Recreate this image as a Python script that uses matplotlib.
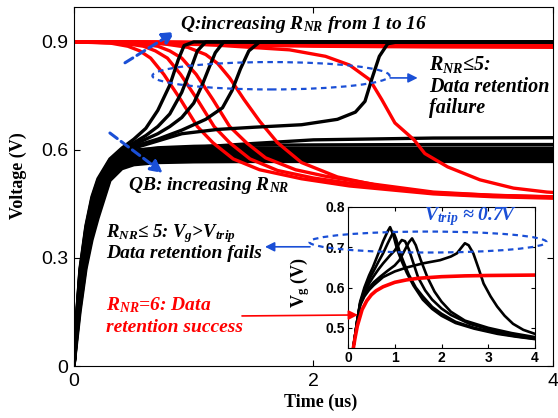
import matplotlib
matplotlib.use('Agg')
import matplotlib.pyplot as plt
from matplotlib.patches import Ellipse

plt.rcParams['mathtext.default'] = 'regular'
plt.rcParams['font.family'] = 'Liberation Sans'

BLUE = '#1a4fd6'
RED = '#ff0000'

# ---- main plot data (time in us, voltage in V) ----
# QB for R_NR = 6..16 (data retained)
t_hold = [0, 0.02, 0.05, 0.1, 0.15, 0.2, 0.3, 0.4, 0.5, 0.7, 1.0, 1.5, 2.0, 3.0, 4.0]
qb_hold = [
    [0, 0.11, 0.24, 0.36, 0.44, 0.50, 0.565, 0.593, 0.600, 0.603, 0.607, 0.618, 0.628, 0.633, 0.634],
    [0, 0.11, 0.24, 0.36, 0.44, 0.50, 0.560, 0.588, 0.598, 0.606, 0.610, 0.613, 0.614, 0.615, 0.615],
    [0, 0.10, 0.23, 0.35, 0.43, 0.49, 0.555, 0.582, 0.592, 0.600, 0.603, 0.604, 0.605, 0.605, 0.605],
    [0, 0.10, 0.22, 0.34, 0.42, 0.48, 0.550, 0.577, 0.587, 0.594, 0.597, 0.598, 0.598, 0.598, 0.598],
    [0, 0.09, 0.21, 0.33, 0.41, 0.47, 0.545, 0.572, 0.582, 0.588, 0.591, 0.592, 0.592, 0.592, 0.592],
    [0, 0.09, 0.20, 0.32, 0.40, 0.46, 0.540, 0.567, 0.577, 0.584, 0.586, 0.587, 0.587, 0.587, 0.587],
    [0, 0.08, 0.19, 0.31, 0.39, 0.45, 0.535, 0.563, 0.573, 0.579, 0.581, 0.582, 0.582, 0.582, 0.582],
    [0, 0.08, 0.18, 0.30, 0.38, 0.44, 0.530, 0.559, 0.569, 0.575, 0.577, 0.578, 0.578, 0.578, 0.578],
    [0, 0.07, 0.17, 0.29, 0.37, 0.43, 0.525, 0.555, 0.565, 0.571, 0.573, 0.574, 0.574, 0.574, 0.574],
    [0, 0.07, 0.16, 0.28, 0.36, 0.42, 0.520, 0.551, 0.562, 0.568, 0.570, 0.571, 0.571, 0.571, 0.571],
    [0, 0.06, 0.15, 0.27, 0.35, 0.41, 0.515, 0.548, 0.559, 0.565, 0.567, 0.568, 0.568, 0.568, 0.568],
]
# Q for R_NR = 6..16
t_qhold = [0, 0.5, 1.0, 2.0, 3.0, 4.0]
q_hold = [
    [0.9, 0.897, 0.893, 0.888, 0.886, 0.885],
    [0.9, 0.899, 0.896, 0.893, 0.891, 0.890],
    [0.9, 0.899, 0.897, 0.895, 0.894, 0.893],
    [0.9, 0.900, 0.898, 0.896, 0.895, 0.895],
    [0.9, 0.900, 0.899, 0.897, 0.896, 0.896],
    [0.9, 0.900, 0.899, 0.898, 0.897, 0.897],
]

# QB for R_NR = 1..5 (flip to 0.9)
qb_fail_t = [
    [0, 0.02, 0.05, 0.1, 0.15, 0.2, 0.3, 0.4, 0.5, 0.6, 0.7, 0.8, 0.87, 0.92, 1.0, 4.0],
    [0, 0.02, 0.05, 0.1, 0.15, 0.2, 0.3, 0.4, 0.5, 0.6, 0.7, 0.8, 0.9, 0.97, 1.03, 1.1, 4.0],
    [0, 0.02, 0.05, 0.1, 0.15, 0.2, 0.3, 0.4, 0.5, 0.6, 0.7, 0.8, 0.9, 1.0, 1.07, 1.13, 1.18, 1.25, 4.0],
    [0, 0.02, 0.05, 0.1, 0.15, 0.2, 0.3, 0.4, 0.5, 0.7, 0.9, 1.1, 1.24, 1.32, 1.39, 1.46, 1.55, 4.0],
    [0, 0.02, 0.05, 0.1, 0.15, 0.2, 0.3, 0.4, 0.5, 0.7, 0.9, 1.2, 1.5, 1.9, 2.2, 2.35, 2.43, 2.49, 2.55, 2.62, 2.7, 4.0],
]
qb_fail_v = [
    [0, 0.13, 0.27, 0.39, 0.47, 0.52, 0.575, 0.605, 0.63, 0.66, 0.71, 0.78, 0.85, 0.89, 0.9, 0.9],
    [0, 0.13, 0.265, 0.385, 0.465, 0.515, 0.572, 0.60, 0.62, 0.64, 0.665, 0.70, 0.76, 0.82, 0.875, 0.9, 0.9],
    [0, 0.125, 0.26, 0.38, 0.46, 0.51, 0.57, 0.598, 0.615, 0.63, 0.645, 0.665, 0.69, 0.73, 0.78, 0.83, 0.87, 0.9, 0.9],
    [0, 0.12, 0.255, 0.375, 0.455, 0.505, 0.567, 0.596, 0.61, 0.63, 0.655, 0.685, 0.717, 0.765, 0.825, 0.875, 0.9, 0.9],
    [0, 0.12, 0.25, 0.37, 0.45, 0.50, 0.565, 0.594, 0.605, 0.625, 0.645, 0.657, 0.663, 0.67, 0.685, 0.705, 0.735, 0.80, 0.86, 0.895, 0.9, 0.9],
]
# Q for R_NR = 1..5 (falls)
q_fail_t = [
    [0, 0.3, 0.45, 0.55, 0.64, 0.75, 0.89, 1.03, 1.16, 1.33, 1.55, 1.9, 2.3, 3.0, 3.5, 4.0],
    [0, 0.4, 0.58, 0.68, 0.78, 0.89, 1.03, 1.17, 1.3, 1.47, 1.7, 2.0, 2.4, 3.0, 3.5, 4.0],
    [0, 0.5, 0.7, 0.8, 0.9, 1.02, 1.16, 1.3, 1.44, 1.6, 1.85, 2.1, 2.5, 3.0, 3.5, 4.0],
    [0, 0.7, 0.95, 1.1, 1.2, 1.3, 1.42, 1.55, 1.7, 1.9, 2.2, 2.6, 3.0, 3.5, 4.0],
    [0, 1.0, 1.8, 2.1, 2.3, 2.47, 2.57, 2.68, 2.84, 2.93, 3.12, 3.39, 3.67, 3.95, 4.0],
]
q_fail_v = [
    [0.9, 0.897, 0.888, 0.875, 0.855, 0.81, 0.74, 0.665, 0.62, 0.575, 0.545, 0.52, 0.50, 0.478, 0.47, 0.466],
    [0.9, 0.897, 0.888, 0.875, 0.855, 0.81, 0.74, 0.665, 0.62, 0.575, 0.543, 0.522, 0.503, 0.48, 0.472, 0.468],
    [0.9, 0.897, 0.888, 0.875, 0.855, 0.81, 0.74, 0.665, 0.62, 0.578, 0.545, 0.527, 0.505, 0.483, 0.474, 0.469],
    [0.9, 0.897, 0.885, 0.865, 0.84, 0.80, 0.74, 0.68, 0.62, 0.565, 0.525, 0.497, 0.481, 0.474, 0.47],
    [0.9, 0.895, 0.878, 0.86, 0.836, 0.795, 0.74, 0.675, 0.628, 0.59, 0.553, 0.517, 0.494, 0.483, 0.482],
]

# ---- inset data: Vg ----
vg_ok_t = [0.1, 0.15, 0.2, 0.3, 0.4, 0.5, 0.6, 0.75, 1.0, 1.25, 1.5, 2.0, 2.5, 3.0, 4.0]
vg_ok_v = [0.44, 0.475, 0.505, 0.545, 0.567, 0.582, 0.592, 0.602, 0.613, 0.619, 0.623, 0.627, 0.629, 0.630, 0.631]
vg_fail_t = [
    [0.1, 0.15, 0.2, 0.26, 0.35, 0.45, 0.53, 0.65, 0.75, 0.85, 0.9, 0.97, 1.05, 1.15, 1.26, 1.4, 1.6, 1.8, 2.0, 2.3, 2.7, 3.2, 3.6, 4.0],
    [0.1, 0.15, 0.2, 0.26, 0.35, 0.45, 0.53, 0.65, 0.75, 0.85, 0.97, 1.03, 1.1, 1.2, 1.3, 1.45, 1.6, 1.8, 2.0, 2.3, 2.7, 3.2, 3.6, 4.0],
    [0.1, 0.15, 0.2, 0.26, 0.35, 0.45, 0.53, 0.65, 0.75, 0.9, 1.0, 1.1, 1.15, 1.22, 1.3, 1.4, 1.5, 1.65, 1.8, 2.0, 2.2, 2.6, 3.0, 3.5, 4.0],
    [0.1, 0.15, 0.2, 0.26, 0.35, 0.45, 0.55, 0.7, 0.85, 1.0, 1.1, 1.2, 1.3, 1.37, 1.45, 1.55, 1.7, 1.85, 2.0, 2.2, 2.5, 3.0, 3.5, 4.0],
    [0.1, 0.15, 0.2, 0.26, 0.35, 0.45, 0.55, 0.75, 1.0, 1.26, 1.6, 1.97, 2.2, 2.33, 2.43, 2.5, 2.58, 2.68, 2.8, 2.9, 3.05, 3.19, 3.35, 3.53, 3.75, 4.0],
]
vg_fail_v = [
    [0.44, 0.48, 0.52, 0.565, 0.60, 0.63, 0.65, 0.685, 0.715, 0.74, 0.75, 0.73, 0.695, 0.665, 0.636, 0.605, 0.57, 0.547, 0.53, 0.512, 0.498, 0.485, 0.478, 0.472],
    [0.44, 0.48, 0.52, 0.562, 0.593, 0.62, 0.637, 0.664, 0.685, 0.71, 0.738, 0.72, 0.69, 0.66, 0.632, 0.60, 0.578, 0.552, 0.535, 0.515, 0.50, 0.487, 0.479, 0.473],
    [0.44, 0.48, 0.52, 0.56, 0.588, 0.61, 0.625, 0.645, 0.66, 0.68, 0.692, 0.71, 0.718, 0.715, 0.695, 0.66, 0.625, 0.593, 0.57, 0.548, 0.532, 0.51, 0.497, 0.484, 0.475],
    [0.44, 0.48, 0.52, 0.558, 0.582, 0.60, 0.613, 0.628, 0.642, 0.655, 0.668, 0.69, 0.712, 0.722, 0.705, 0.67, 0.625, 0.59, 0.565, 0.54, 0.518, 0.50, 0.487, 0.477],
    [0.44, 0.48, 0.52, 0.556, 0.578, 0.594, 0.606, 0.626, 0.64, 0.65, 0.66, 0.668, 0.677, 0.685, 0.70, 0.71, 0.705, 0.685, 0.645, 0.61, 0.578, 0.553, 0.53, 0.51, 0.495, 0.485],
]

serif_bi = dict(family='Liberation Serif', weight='bold', style='italic')

fig = plt.figure(figsize=(5.58, 4.18), dpi=100)
ax = fig.add_axes([0.1326, 0.1244, 0.8584, 0.8589])

lw = 2.4
for v in qb_hold:
    ax.plot(t_hold, v, color='black', lw=lw)
for v in q_hold:
    ax.plot(t_qhold, v, color=RED, lw=lw)
for t, v in zip(q_fail_t, q_fail_v):
    ax.plot(t, v, color=RED, lw=lw)
for t, v in zip(qb_fail_t, qb_fail_v):
    ax.plot(t, v, color='black', lw=lw)

ax.set_xlim(0, 4)
ax.set_ylim(0, 0.997)
ax.set_xticks([0, 2, 4])
ax.set_xticklabels(['0', '2', '4'])
ax.set_yticks([0, 0.3, 0.6, 0.9])
ax.set_yticklabels(['0', '0.3', '0.6', '0.9'])
ax.tick_params(direction='in', top=True, right=True, labelsize=14, length=4, pad=5)
ax.tick_params(axis='y', pad=4)
ax.set_xlabel('Time (us)', family='Liberation Serif', weight='bold', fontsize=13)
ax.set_ylabel('Voltage (V)', family='Liberation Serif', weight='bold', fontsize=13)
ax.xaxis.set_label_coords(0.514, -0.078)
ax.yaxis.set_label_coords(-0.098, 0.53)

# annotations in main axes
ax.add_patch(Ellipse((1.645, 0.806), 1.98, 0.076, fill=False, ec=BLUE, lw=1.6,
                     ls=(0, (2.5, 2)), zorder=5))
ax.annotate('', xy=(0.843, 0.928), xytext=(0.426, 0.842),
            arrowprops=dict(arrowstyle='-|>', color=BLUE, lw=2.2, ls=(0, (3, 1.6)),
                            mutation_scale=18, shrinkA=0, shrinkB=0), zorder=6)
ax.annotate('', xy=(0.743, 0.536), xytext=(0.30, 0.647),
            arrowprops=dict(arrowstyle='-|>', color=BLUE, lw=2.2, ls=(0, (3, 1.6)),
                            mutation_scale=18, shrinkA=0, shrinkB=0), zorder=6)
ax.annotate('', xy=(2.87, 0.8), xytext=(2.64, 0.8),
            arrowprops=dict(arrowstyle='-|>', color=BLUE, lw=1.2,
                            mutation_scale=14, shrinkA=0, shrinkB=0), zorder=6)
ax.annotate('', xy=(1.595, 0.331), xytext=(1.971, 0.331),
            arrowprops=dict(arrowstyle='-|>', color=BLUE, lw=1.2,
                            mutation_scale=14, shrinkA=0, shrinkB=0), zorder=6)

ax.text(0.885, 0.936, 'Q:increasing $R_{NR}$ from 1 to 16', fontsize=14, **serif_bi)
ax.text(0.451, 0.489, 'QB: increasing $R_{NR}$', fontsize=14, **serif_bi)
ax.text(2.965, 0.822, '$R_{NR}$≤5:', fontsize=14.5, **serif_bi)
ax.text(2.965, 0.761, 'Data retention', fontsize=14.5, **serif_bi)
ax.text(2.965, 0.703, 'failure', fontsize=14.5, **serif_bi)
ax.text(0.267, 0.358, '$R_{NR}$≤ 5: $V_g$>$V_{trip}$', fontsize=13.5, **serif_bi)
ax.text(0.267, 0.300, 'Data retention fails', fontsize=14, **serif_bi)
ax.text(0.267, 0.156, '$R_{NR}$=6: Data', fontsize=14, color=RED, **serif_bi)
ax.text(0.267, 0.094, 'retention success', fontsize=14, color=RED, **serif_bi)

# ---- inset ----
ins = fig.add_axes([0.6237, 0.1675, 0.3351, 0.3373])
ins.set_facecolor('white')
for t, v in zip(vg_fail_t, vg_fail_v):
    ins.plot(t, v, color='black', lw=1.9)
ins.plot(vg_ok_t, vg_ok_v, color=RED, lw=2.6)
ins.set_xlim(0, 4)
ins.set_ylim(0.45, 0.8)
ins.set_xticks([0, 1, 2, 3, 4])
ins.set_yticks([0.5, 0.6, 0.7, 0.8])
ins.set_yticklabels(['0.5', '0.6', '0.7', '0.8'])
ins.tick_params(direction='in', top=True, right=True, labelsize=10, length=3, pad=2)
for lab in ins.get_xticklabels() + ins.get_yticklabels():
    lab.set_fontweight('bold')
ins.set_ylabel('V$_g$ (V)', family='Liberation Serif', weight='bold', fontsize=13)
ins.yaxis.set_label_coords(-0.19, 0.46)

ins.add_patch(Ellipse((1.71, 0.713), 5.07, 0.052, fill=False, ec=BLUE, lw=1.6,
                      ls=(0, (2.5, 2)), clip_on=False, zorder=5))
ins.text(1.62, 0.766, '$V_{trip}$ ≈ 0.7V', fontsize=14, color=BLUE, **serif_bi)
ins.annotate('', xy=(0.214, 0.532), xycoords='data',
             xytext=(1.403, 0.139), textcoords=ax.transData,
             arrowprops=dict(arrowstyle='-|>', color=RED, lw=1.2,
                             mutation_scale=14, shrinkA=0, shrinkB=0),
             annotation_clip=False, zorder=6)

fig.savefig('out.png', dpi=100)
